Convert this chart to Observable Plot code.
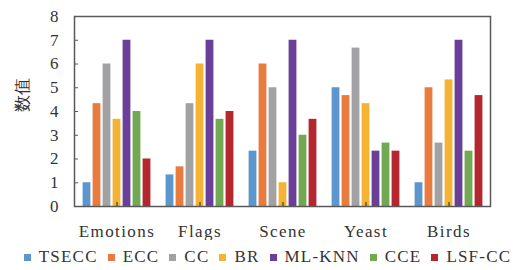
<!DOCTYPE html>
<html><head><meta charset="utf-8">
<script src="https://cdn.jsdelivr.net/npm/d3@7"></script>
<script src="https://cdn.jsdelivr.net/npm/@observablehq/plot@0.6"></script>
<style>
body{margin:0;background:#fff;}
#chart{width:521px;}
#chart svg text{font-family:"Liberation Serif",serif;}
#chart svg g[aria-label="x-axis tick label"] text{letter-spacing:1.4px;}
.legend{width:521px;display:flex;justify-content:center;align-items:center;white-space:nowrap;font-family:"Liberation Serif",serif;font-size:17px;color:#333;letter-spacing:1.2px;margin-top:4px;height:26px;transform:translateX(7px);}
.legend span.item{display:flex;align-items:center;flex:0 0 auto;margin:0 5px;white-space:nowrap;}
.legend i{display:inline-block;width:7px;height:7px;margin-right:8px;}
</style>
</head><body>
<div id="chart"></div>
<script>
const groups = ["Emotions", "Flags", "Scene", "Yeast", "Birds"];
const seriesNames = ["TSECC", "ECC", "CC", "BR", "ML-KNN", "CCE", "LSF-CC"];
const TSECC = [1, 1.33, 2.33, 5, 1];
const ECC = [4.33, 1.67, 6, 4.67, 5];
const CC = [6, 4.33, 5, 6.67, 2.67];
const BR = [3.67, 6, 1, 4.33, 5.33];
const MLKNN = [7, 7, 7, 2.33, 7];
const CCE = [4, 3.67, 3, 2.67, 2.33];
const LSFCC = [2, 4, 3.67, 2.33, 4.67];
const yTicks = [0, 1, 2, 3, 4, 5, 6, 7, 8];
const colors = ["#5B97CC", "#E97B3F", "#A2A2A5", "#F5B333", "#6A3F99", "#71A852", "#B4272F"];

const seriesValues = [TSECC, ECC, CC, BR, MLKNN, CCE, LSFCC];
const W = 521, H = 240, ML = 74, MR = 31;
const band = (W - ML - MR) / groups.length;
const barW = 8, step = 10;

const barMarks = seriesValues.map((vals, i) =>
  Plot.barY(groups.map((g, j) => ({g, v: vals[j]})), {
    x: "g", y: "v", fill: colors[i],
    dx: (i - 3) * step,
    insetLeft: (band - barW) / 2, insetRight: (band - barW) / 2
  })
);

const chart = Plot.plot({
  width: W, height: H,
  marginLeft: ML, marginRight: MR, marginTop: 16, marginBottom: 34,
  style: {fontSize: "17px", color: "#333", background: "#fff"},
  x: {domain: groups, padding: 0, label: null},
  y: {domain: [0, 8], label: null},
  marks: [
    ...barMarks,
    Plot.axisY({ticks: yTicks, tickSize: -4, tickPadding: 20, stroke: "#595959", label: null, fontSize: 17}),
    Plot.axisX({tickSize: -4, tickPadding: 22, stroke: "#222", label: null, fontSize: 17}),
    Plot.frame({stroke: "#595959", strokeWidth: 1.5}),
    Plot.text(["数值"], {frameAnchor: "left", rotate: -90, dx: -52, fontSize: 17, fill: "#333"})
  ]
});
document.getElementById("chart").appendChild(chart);

const leg = document.createElement("div");
leg.className = "legend";
seriesNames.forEach((n, i) => {
  const s = document.createElement("span");
  s.className = "item";
  const sw = document.createElement("i");
  sw.style.background = colors[i];
  s.appendChild(sw);
  s.appendChild(document.createTextNode(n));
  leg.appendChild(s);
});
document.getElementById("chart").appendChild(leg);
</script>
</body></html>
